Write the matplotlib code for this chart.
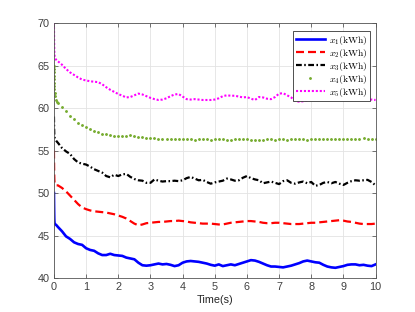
import numpy as np
import matplotlib
matplotlib.use("Agg")
import matplotlib.pyplot as plt

# time grid: dense head near t=0, then 0.125 s steps
t_head = [0, 0.002, 0.004, 0.006, 0.008, 0.010, 0.013, 0.017, 0.022, 0.030, 0.050, 0.080]
t_body = list(np.arange(1, 81) * 0.125)
t = np.array(t_head + t_body)

x1 = [50, 49.2, 48.5, 47.9, 47.4, 47.0, 46.7, 46.5, 46.4, 46.35, 46.3, 46.2,
      46.0, 45.5, 44.9, 44.6, 44.2, 44.0, 43.9, 43.5,
      43.3, 43.2, 42.9, 42.7, 42.7, 42.85, 42.7, 42.65,
      42.6, 42.4, 42.3, 42.2, 41.8, 41.5, 41.45, 41.5,
      41.6, 41.7, 41.6, 41.65, 41.55, 41.4, 41.5, 41.8,
      41.95, 42.0, 41.95, 41.9, 41.8, 41.7, 41.55, 41.45,
      41.6, 41.4, 41.5, 41.6, 41.5, 41.65, 41.8, 41.95,
      42.1, 42.05, 41.9, 41.7, 41.5, 41.35, 41.35, 41.3,
      41.25, 41.35, 41.45, 41.6, 41.75, 41.95, 42.05, 41.95,
      41.85, 41.8, 41.55, 41.35, 41.25, 41.2, 41.3, 41.4,
      41.55, 41.6, 41.6, 41.5, 41.55, 41.45, 41.4, 41.6]

x2 = [55, 54.2, 53.5, 52.9, 52.4, 52.0, 51.6, 51.3, 51.1, 51.0, 50.95, 50.9,
      50.9, 50.6, 50.2, 49.7, 49.2, 48.7, 48.3, 48.1,
      47.95, 47.85, 47.8, 47.75, 47.7, 47.6, 47.5, 47.35,
      47.2, 47.0, 46.7, 46.4, 46.2, 46.3, 46.45, 46.5,
      46.55, 46.6, 46.6, 46.65, 46.7, 46.7, 46.75, 46.7,
      46.65, 46.55, 46.5, 46.45, 46.4, 46.4, 46.4, 46.35,
      46.3, 46.3, 46.4, 46.5, 46.55, 46.6, 46.65, 46.7,
      46.7, 46.65, 46.6, 46.5, 46.45, 46.45, 46.5, 46.5,
      46.45, 46.4, 46.35, 46.35, 46.35, 46.4, 46.45, 46.5,
      46.5, 46.55, 46.6, 46.65, 46.7, 46.75, 46.8, 46.75,
      46.65, 46.6, 46.5, 46.4, 46.35, 46.35, 46.35, 46.4]

x3 = [59, 58.5, 58.0, 57.6, 57.3, 57.0, 56.8, 56.6, 56.5, 56.4, 56.3, 56.1,
      55.9, 55.3, 54.9, 54.6, 54.0, 53.6, 53.45, 53.35,
      53.1, 52.8, 52.6, 52.4, 52.0, 51.85, 52.15, 52.0,
      52.2, 52.25, 51.9, 51.65, 51.5, 51.45, 51.2, 51.2,
      51.6, 51.45, 51.35, 51.4, 51.4, 51.45, 51.4, 51.5,
      51.75, 51.9, 51.7, 51.5, 51.55, 51.3, 51.1, 51.25,
      51.35, 51.45, 51.7, 51.6, 51.45, 51.5, 51.8, 52.0,
      51.75, 51.6, 51.5, 51.15, 51.25, 51.35, 51.2, 51.05,
      51.4, 51.5, 51.2, 51.1, 51.25, 51.35, 51.15, 51.3,
      50.85, 50.95, 51.2, 51.3, 51.15, 51.3, 51.1, 50.95,
      51.2, 51.4, 51.5, 51.45, 51.5, 51.55, 51.3, 50.9]

x4 = [65, 64.6, 64.2, 63.8, 63.4, 63.0, 62.6, 62.2, 61.8, 61.4, 61.0, 60.7,
      60.55, 60.1, 59.6, 59.1, 58.7, 58.3, 58.0, 57.75,
      57.5, 57.3, 57.15, 57.0, 56.9, 56.8, 56.75, 56.7,
      56.7, 56.75, 56.8, 56.75, 56.6, 56.55, 56.5, 56.45,
      56.45, 56.4, 56.35, 56.35, 56.3, 56.35, 56.3, 56.3,
      56.3, 56.3, 56.25, 56.3, 56.3, 56.3, 56.25, 56.3,
      56.3, 56.3, 56.25, 56.25, 56.3, 56.3, 56.4, 56.35,
      56.2, 56.2, 56.2, 56.25, 56.3, 56.35, 56.25, 56.3,
      56.3, 56.25, 56.3, 56.3, 56.35, 56.3, 56.25, 56.3,
      56.3, 56.3, 56.3, 56.35, 56.3, 56.35, 56.4, 56.35,
      56.4, 56.3, 56.3, 56.4, 56.45, 56.4, 56.35, 56.3]

x5 = [70, 69.2, 68.5, 67.9, 67.4, 67.0, 66.6, 66.3, 66.1, 66.0, 65.8, 65.6,
      65.5, 65.1, 64.6, 64.2, 63.9, 63.6, 63.35, 63.25,
      63.15, 63.1, 63.05, 62.8, 62.45, 62.15, 61.9, 61.65,
      61.45, 61.25, 61.3, 61.5, 61.7, 61.6, 61.4, 61.2,
      61.05, 60.95, 61.0, 61.15, 61.4, 61.6, 61.65, 61.35,
      61.05, 61.0, 61.05, 61.0, 60.95, 60.95, 60.95, 61.0,
      61.15, 61.4, 61.5, 61.45, 61.45, 61.35, 61.25, 61.3,
      61.1, 60.95, 61.3, 61.25, 61.1, 61.05, 61.3, 61.7,
      61.75, 61.5, 61.25, 60.85, 60.75, 60.8, 60.9, 60.95,
      61.0, 61.0, 61.2, 61.45, 61.5, 61.35, 61.2, 61.05,
      60.95, 61.05, 61.25, 61.2, 61.1, 61.0, 61.0, 60.95]

labels = [r"$x_1\mathrm{(kWh)}$", r"$x_2\mathrm{(kWh)}$", r"$x_3\mathrm{(kWh)}$",
          r"$x_4\mathrm{(kWh)}$", r"$x_5\mathrm{(kWh)}$"]

plt.rcParams.update({
    "font.family": ["Liberation Sans", "DejaVu Sans"],
    "mathtext.fontset": "cm",
    "font.size": 7.5,
})

fig = plt.figure(figsize=(4.15, 3.12), dpi=100)
ax = fig.add_axes([0.130, 0.109, 0.775, 0.817])

ax.plot(t, x1, color="#0000FF", lw=1.9, label=labels[0])
ax.plot(t, x2, color="#FF0000", lw=1.6, ls=(0, (3.6, 1.8)), label=labels[1])
ax.plot(t, x3, color="black", lw=1.6, ls=(0, (2.6, 1.1, 0.7, 1.1)), label=labels[2])
ax.plot(t, x4, color="#77AC30", ls="none", marker=".", ms=2.1, label=labels[3])
ax.plot(t, x5, color="#FF00FF", lw=1.5, ls=(0, (1.0, 0.9)), label=labels[4])

ax.set_xlim(0, 10)
ax.set_ylim(40, 70)
ax.set_xticks(range(0, 11))
ax.set_yticks(range(40, 71, 5))
ax.grid(True, color="#e3e3e3", lw=0.6)
ax.set_axisbelow(True)
ax.tick_params(direction="in", length=3, width=0.5, colors="#404040",
               top=True, right=True, labelsize=7.8, pad=3)
for s in ax.spines.values():
    s.set_color("#555555")
    s.set_linewidth(0.6)

ax.set_xlabel("Time(s)", fontsize=7.8, color="#262626", labelpad=2)

leg = ax.legend(loc="upper right", bbox_to_anchor=(0.982, 0.968), fancybox=False,
                edgecolor="#333333", framealpha=1, fontsize=7.0,
                handlelength=3.0, handletextpad=0.4, labelspacing=0.0,
                borderpad=0.25, borderaxespad=0.0)
leg.get_frame().set_linewidth(0.6)

fig.savefig("out.png", dpi=100)
